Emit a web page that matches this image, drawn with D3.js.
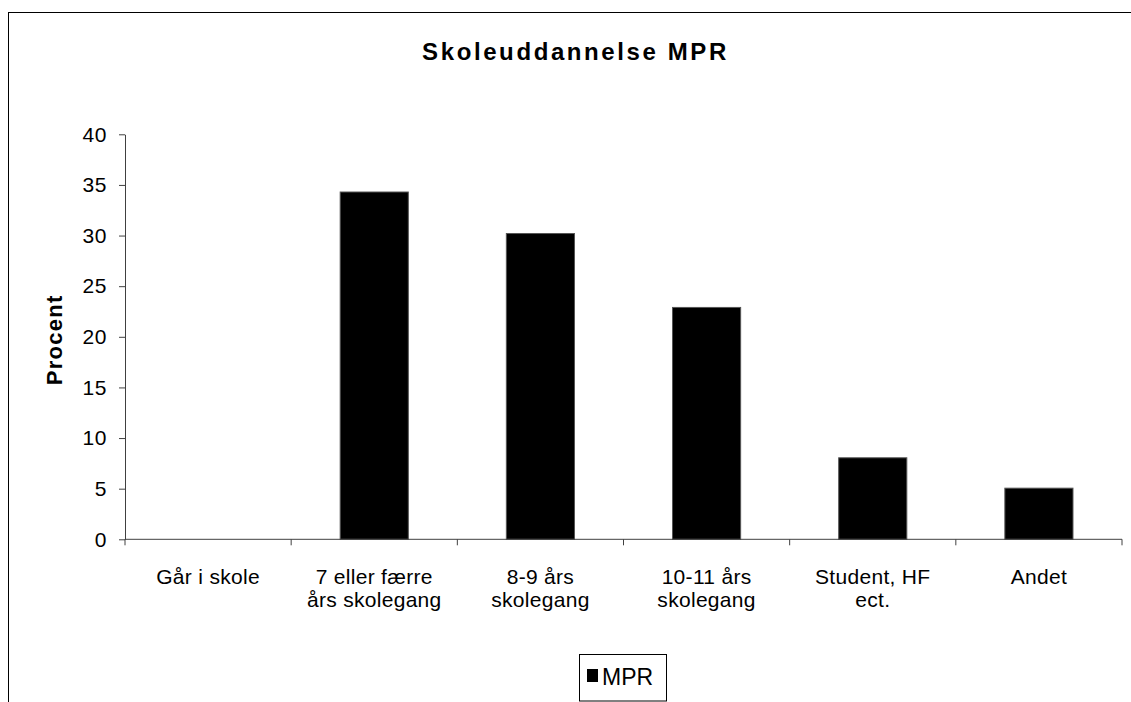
<!DOCTYPE html>
<html>
<head>
<meta charset="utf-8">
<script src="https://cdn.jsdelivr.net/npm/d3@7"></script>
<style>
  html, body { margin: 0; padding: 0; background: #fff; }
  svg { display: block; }
  text { font-family: Arial, "Liberation Sans", sans-serif; fill: #000; }
</style>
</head>
<body>
<svg id="chart" width="1131" height="702"></svg>
<script>
const title = "Skoleuddannelse MPR";
const yLabel = "Procent";
const seriesName = "MPR";
const categories = [
  ["Går i skole"],
  ["7 eller færre", "års skolegang"],
  ["8-9 års", "skolegang"],
  ["10-11 års", "skolegang"],
  ["Student, HF", "ect."],
  ["Andet"]
];
const values = [0, 34.3, 30.2, 22.9, 8.05, 5.05];
const yTicks = [0, 5, 10, 15, 20, 25, 30, 35, 40];

const svg = d3.select("#chart");
const W = 1131, H = 702;
const plot = { left: 125, right: 1122, top: 134.3, bottom: 539.3 };

svg.append("rect").attr("width", W).attr("height", H).attr("fill", "#fff");

// outer chart frame (extends beyond right/bottom edge)
svg.append("rect")
  .attr("x", 8.5).attr("y", 12.5)
  .attr("width", W + 20).attr("height", H + 20)
  .attr("fill", "none").attr("stroke", "#000").attr("stroke-width", 1);

const keys = categories.map((c, i) => i);
const x = d3.scaleBand().domain(keys).range([plot.left, plot.right]).padding(0);
const y = d3.scaleLinear().domain([0, 40]).range([plot.bottom, plot.top]);

// bars
const barFrac = 0.41;
svg.append("g").selectAll("rect")
  .data(values)
  .join("rect")
  .attr("x", (d, i) => x(i) + x.bandwidth() * (1 - barFrac) / 2)
  .attr("width", x.bandwidth() * barFrac)
  .attr("y", d => y(d))
  .attr("height", d => y(0) - y(d))
  .attr("fill", "#000")
  .attr("stroke", d => d > 0 ? "#555" : "none")
  .attr("stroke-width", 1);

// y axis
const yAxis = svg.append("g")
  .attr("transform", `translate(${plot.left},0)`)
  .call(d3.axisLeft(y).tickValues(yTicks).tickSize(6).tickSizeOuter(0).tickPadding(12));
yAxis.select(".domain").attr("stroke", "#404040");
yAxis.selectAll(".tick line").attr("stroke", "#404040");
yAxis.selectAll(".tick text")
  .attr("font-size", 21).attr("font-family", "Arial, 'Liberation Sans', sans-serif")
  .attr("letter-spacing", 0.6).attr("fill", "#000");

// x axis baseline
svg.append("line")
  .attr("x1", plot.left).attr("x2", plot.right)
  .attr("y1", y(0)).attr("y2", y(0))
  .attr("stroke", "#404040");
// category boundary ticks
const bounds = keys.map(k => x(k)).concat([plot.right]);
svg.append("g").selectAll("line")
  .data(bounds)
  .join("line")
  .attr("x1", d => d).attr("x2", d => d)
  .attr("y1", y(0)).attr("y2", y(0) + 6)
  .attr("stroke", "#404040");

// category labels
const lab = svg.append("g").selectAll("text")
  .data(categories)
  .join("text")
  .attr("x", (d, i) => x(i) + x.bandwidth() / 2)
  .attr("y", 584)
  .attr("text-anchor", "middle")
  .attr("font-size", 21)
  .attr("letter-spacing", 0.3);
lab.selectAll("tspan")
  .data(d => d)
  .join("tspan")
  .attr("x", function () { return d3.select(this.parentNode).attr("x"); })
  .attr("dy", (d, i) => i === 0 ? 0 : 23)
  .text(d => d);

// title
svg.append("text")
  .attr("x", 575.5).attr("y", 60)
  .attr("text-anchor", "middle")
  .attr("font-size", 24).attr("font-weight", "bold")
  .attr("letter-spacing", 2.6)
  .text(title);

// y label
svg.append("text")
  .attr("transform", `translate(62,${(plot.top + plot.bottom) / 2 + 3}) rotate(-90)`)
  .attr("text-anchor", "middle")
  .attr("font-size", 22).attr("font-weight", "bold")
  .attr("letter-spacing", 1.3)
  .text(yLabel);

// legend
const lg = svg.append("g");
lg.append("rect")
  .attr("x", 579.5).attr("y", 654.5).attr("width", 87).attr("height", 46.5)
  .attr("fill", "#fff").attr("stroke", "#000").attr("stroke-width", 1);
lg.append("rect")
  .attr("x", 587).attr("y", 669).attr("width", 11).attr("height", 13)
  .attr("fill", "#000");
lg.append("text")
  .attr("x", 602).attr("y", 685)
  .attr("font-size", 23).attr("letter-spacing", 0)
  .text(seriesName);
</script>
</body>
</html>
